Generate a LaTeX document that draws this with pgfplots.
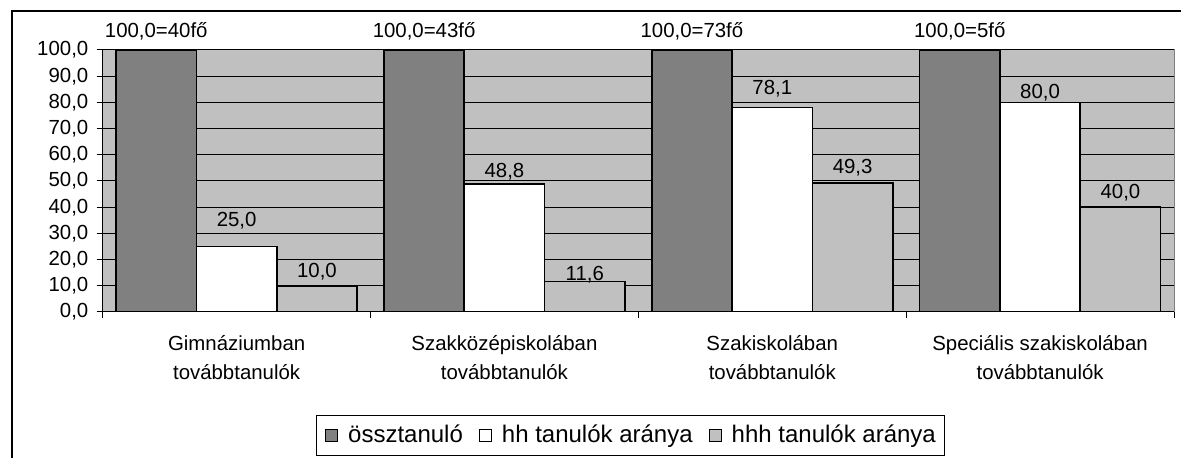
\documentclass[border=0pt]{standalone}
\usepackage{fontspec}
\setmainfont{Liberation Sans}
\usepackage{pgfplots}
\pgfplotsset{compat=1.18}
\usepackage{pgfplotstable}
\definecolor{darkbar}{HTML}{808080}
\definecolor{lightbar}{HTML}{C0C0C0}

% x = group index (0..3) plus the bar's offset within the group
\pgfplotstableread{
x y lab off
-0.3 100 100,0=40fő 9.5
0.7 100 100,0=43fő 9.5
1.7 100 100,0=73fő 9.5
2.7 100 100,0=5fő 9.5
}\dataA
\pgfplotstableread{
x y lab off
0 25.0 25,0 13
1 48.8 48,8 6.15
2 78.1 78,1 9.15
3 80.0 80,0 5
}\dataB
\pgfplotstableread{
x y lab off
0.3 10.0 10,0 6.85
1.3 11.6 11,6 3.65
2.3 49.3 49,3 7.65
3.3 40.0 40,0 7.5
}\dataC

\pgfplotsset{
  mybar/.style={ybar, bar width=0.3, bar shift=0pt, draw=black, line width=0.8pt,
    point meta=explicit symbolic,
    visualization depends on={\thisrow{off} \as \off},
    nodes near coords={\pgfplotspointmeta},
    every node near coord/.append style={anchor=center, inner sep=0pt, yshift=\off pt, font=\fontsize{10.2}{12}\selectfont, text=black},
    legend image code/.code={\draw[##1, line width=0.5pt] (0pt,-3pt) rectangle (6pt,3pt);}
  }
}

\begin{document}
\begin{tikzpicture}[font=\fontsize{10.2}{12}\selectfont]
\useasboundingbox (0,0) rectangle (590.5pt,229pt);
\draw[line width=1pt] (5.75pt,-1pt) -- (5.75pt,223.25pt) -- (592pt,223.25pt);
\begin{axis}[
  at={(51.35pt,73pt)}, anchor=south west,
  scale only axis, width=535.65pt, height=131pt,
  xmin=-0.5, xmax=3.5, ymin=0, ymax=100,
  axis x line*=bottom, axis y line*=left,
  axis line style={-, black, line width=0.5pt},
  axis background/.style={fill=lightbar, draw=darkbar, line width=0.5pt},
  ymajorgrids, major grid style={black, line width=0.5pt},
  tick align=outside, major tick length=3pt,
  tick style={black, line width=0.5pt},
  ytick={0,10,...,100},
  yticklabel style={inner sep=0pt, xshift=-4pt,
    /pgf/number format/fixed, /pgf/number format/fixed zerofill,
    /pgf/number format/precision=1, /pgf/number format/use comma,
    /pgf/number format/assume math mode=true},
  xtick={-0.5,0.5,1.5,2.5,3.5}, xticklabels={},
  extra x ticks={0,1,2,3},
  extra x tick labels={{Gimnáziumban\\továbbtanulók},{Szakközépiskolában\\továbbtanulók},{Szakiskolában\\továbbtanulók},{Speciális szakiskolában\\továbbtanulók}},
  extra x tick style={major tick length=0pt, xticklabel style={align=center, inner sep=0pt, yshift=-11.5pt, font=\fontsize{10.2}{14.5}\selectfont}},
  legend style={at={(0.4927,-0.4714)}, anchor=center, legend columns=3, draw=black, line width=0.5pt,
    font=\fontsize{12}{14}\selectfont, inner xsep=4.5pt, inner ysep=5pt,
    nodes={inner sep=0pt},
    /tikz/every odd column/.append style={column sep=5pt},
    /tikz/every even column/.append style={column sep=8pt}},
  legend cell align=left,
]
\addplot[mybar, fill=darkbar] table[x=x, y=y, meta=lab] {\dataA};
\addlegendentry{össztanuló}
\addplot[mybar, fill=white] table[x=x, y=y, meta=lab] {\dataB};
\addlegendentry{hh tanulók aránya}
\addplot[mybar, fill=lightbar] table[x=x, y=y, meta=lab] {\dataC};
\addlegendentry{hhh tanulók aránya}
\end{axis}
\end{tikzpicture}
\end{document}
